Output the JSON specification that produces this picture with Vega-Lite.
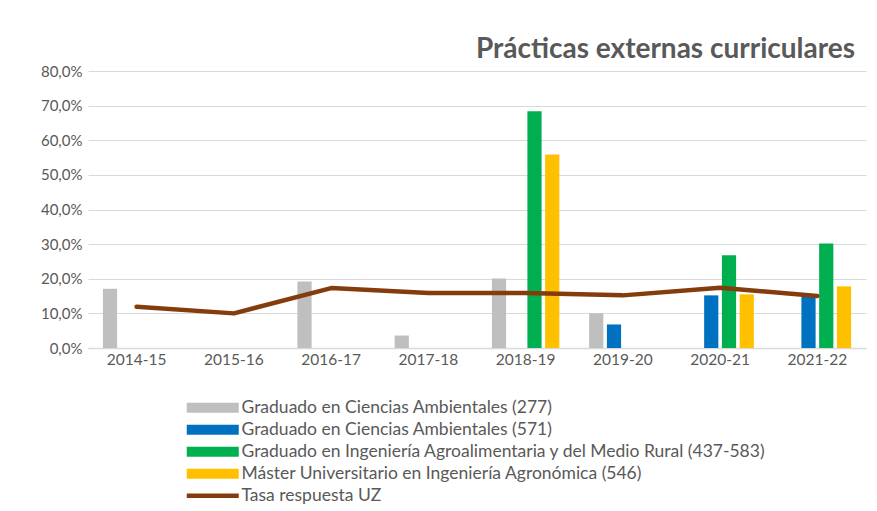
{
  "$schema": "https://vega.github.io/schema/vega-lite/v6.json",
  "autosize": "none",
  "width": 778,
  "height": 277,
  "padding": {"left": 88, "top": 71, "right": 11, "bottom": 163},
  "background": "white",
  "config": {
    "font": "Lato",
    "view": {"stroke": null},
    "axis": {"labelFont": "Lato", "labelColor": "#595959", "labelFontSize": 15, "ticks": false, "title": null}
  },
  "title": {
    "text": "Prácticas externas curriculares",
    "anchor": "end",
    "font": "Lato",
    "fontSize": 28,
    "fontWeight": "bold",
    "color": "#595959",
    "dx": -11,
    "offset": 0
  },
  "data": {
    "values": [
      {"curso": "2014-15", "serie": "Graduado en Ciencias Ambientales (277)", "valor": 0.171},
      {"curso": "2016-17", "serie": "Graduado en Ciencias Ambientales (277)", "valor": 0.192},
      {"curso": "2017-18", "serie": "Graduado en Ciencias Ambientales (277)", "valor": 0.036},
      {"curso": "2018-19", "serie": "Graduado en Ciencias Ambientales (277)", "valor": 0.201},
      {"curso": "2019-20", "serie": "Graduado en Ciencias Ambientales (277)", "valor": 0.100},
      {"curso": "2019-20", "serie": "Graduado en Ciencias Ambientales (571)", "valor": 0.068},
      {"curso": "2020-21", "serie": "Graduado en Ciencias Ambientales (571)", "valor": 0.152},
      {"curso": "2021-22", "serie": "Graduado en Ciencias Ambientales (571)", "valor": 0.148},
      {"curso": "2018-19", "serie": "Graduado en Ingeniería Agroalimentaria y del Medio Rural (437-583)", "valor": 0.684},
      {"curso": "2020-21", "serie": "Graduado en Ingeniería Agroalimentaria y del Medio Rural (437-583)", "valor": 0.268},
      {"curso": "2021-22", "serie": "Graduado en Ingeniería Agroalimentaria y del Medio Rural (437-583)", "valor": 0.302},
      {"curso": "2018-19", "serie": "Máster Universitario en Ingeniería Agronómica (546)", "valor": 0.559},
      {"curso": "2020-21", "serie": "Máster Universitario en Ingeniería Agronómica (546)", "valor": 0.155},
      {"curso": "2021-22", "serie": "Máster Universitario en Ingeniería Agronómica (546)", "valor": 0.178},
      {"curso": "2014-15", "serie": "Tasa respuesta UZ", "valor": 0.119},
      {"curso": "2015-16", "serie": "Tasa respuesta UZ", "valor": 0.100},
      {"curso": "2016-17", "serie": "Tasa respuesta UZ", "valor": 0.173},
      {"curso": "2017-18", "serie": "Tasa respuesta UZ", "valor": 0.159},
      {"curso": "2018-19", "serie": "Tasa respuesta UZ", "valor": 0.159},
      {"curso": "2019-20", "serie": "Tasa respuesta UZ", "valor": 0.152},
      {"curso": "2020-21", "serie": "Tasa respuesta UZ", "valor": 0.174},
      {"curso": "2021-22", "serie": "Tasa respuesta UZ", "valor": 0.150}
    ]
  },
  "encoding": {
    "x": {
      "field": "curso",
      "type": "nominal",
      "sort": ["2014-15", "2015-16", "2016-17", "2017-18", "2018-19", "2019-20", "2020-21", "2021-22"],
      "scale": {"domain": ["2014-15", "2015-16", "2016-17", "2017-18", "2018-19", "2019-20", "2020-21", "2021-22"], "paddingInner": 0.27, "paddingOuter": 0.135},
      "axis": {"labelAngle": 0, "labelFontSize": 15.5, "domain": true, "domainColor": "#D9D9D9", "domainWidth": 1.5, "grid": false, "labelPadding": 4}
    },
    "y": {
      "field": "valor",
      "type": "quantitative",
      "scale": {"domain": [0, 0.8], "nice": false},
      "axis": {
        "values": [0, 0.1, 0.2, 0.3, 0.4, 0.5, 0.6, 0.7, 0.8],
        "labelExpr": "replace(format(datum.value, '.1%'), '.', ',')",
        "domain": false,
        "grid": true,
        "gridColor": "#D9D9D9",
        "gridWidth": 1.2,
        "labelPadding": 6
      }
    },
    "color": {
      "field": "serie",
      "type": "nominal",
      "scale": {
        "domain": ["Graduado en Ciencias Ambientales (277)", "Graduado en Ciencias Ambientales (571)", "Graduado en Ingeniería Agroalimentaria y del Medio Rural (437-583)", "Máster Universitario en Ingeniería Agronómica (546)", "Tasa respuesta UZ"],
        "range": ["#BFBFBF", "#0070C0", "#00B050", "#FFC000", "#843C0C"]
      },
      "legend": {
        "title": null,
        "orient": "none",
        "legendX": 96,
        "legendY": 328,
        "direction": "vertical",
        "labelFont": "Lato",
        "labelFontSize": 17.5,
        "labelColor": "#595959",
        "labelOffset": 20,
        "symbolOffset": 20,
        "symbolType": "M-5.2,-1H5.2V1H-5.2Z",
        "symbolSize": 100,
        "symbolStrokeWidth": 0,
        "symbolOpacity": 1,
        "rowPadding": 3,
        "labelLimit": 700,
        "encode": {
          "symbols": {
            "update": {
              "shape": {"signal": "datum.value === 'Tasa respuesta UZ' ? 'M-5.2,-0.45H5.2V0.45H-5.2Z' : 'M-5.2,-1H5.2V1H-5.2Z'"},
              "fill": {"scale": "color", "field": "value"}
            }
          }
        }
      }
    }
  },
  "layer": [
    {
      "transform": [{"filter": "datum.serie !== 'Tasa respuesta UZ'"}],
      "mark": {"type": "bar"},
      "encoding": {
        "xOffset": {
          "field": "serie",
          "type": "nominal",
          "scale": {"domain": ["Graduado en Ciencias Ambientales (277)", "Graduado en Ciencias Ambientales (571)", "Graduado en Ingeniería Agroalimentaria y del Medio Rural (437-583)", "Máster Universitario en Ingeniería Agronómica (546)"], "paddingInner": 0.2, "paddingOuter": 0.1}
        }
      }
    },
    {
      "transform": [{"filter": "datum.serie === 'Tasa respuesta UZ'"}],
      "mark": {"type": "line", "strokeWidth": 4.5, "strokeJoin": "round", "strokeCap": "round"},
      "encoding": {}
    }
  ]
}
